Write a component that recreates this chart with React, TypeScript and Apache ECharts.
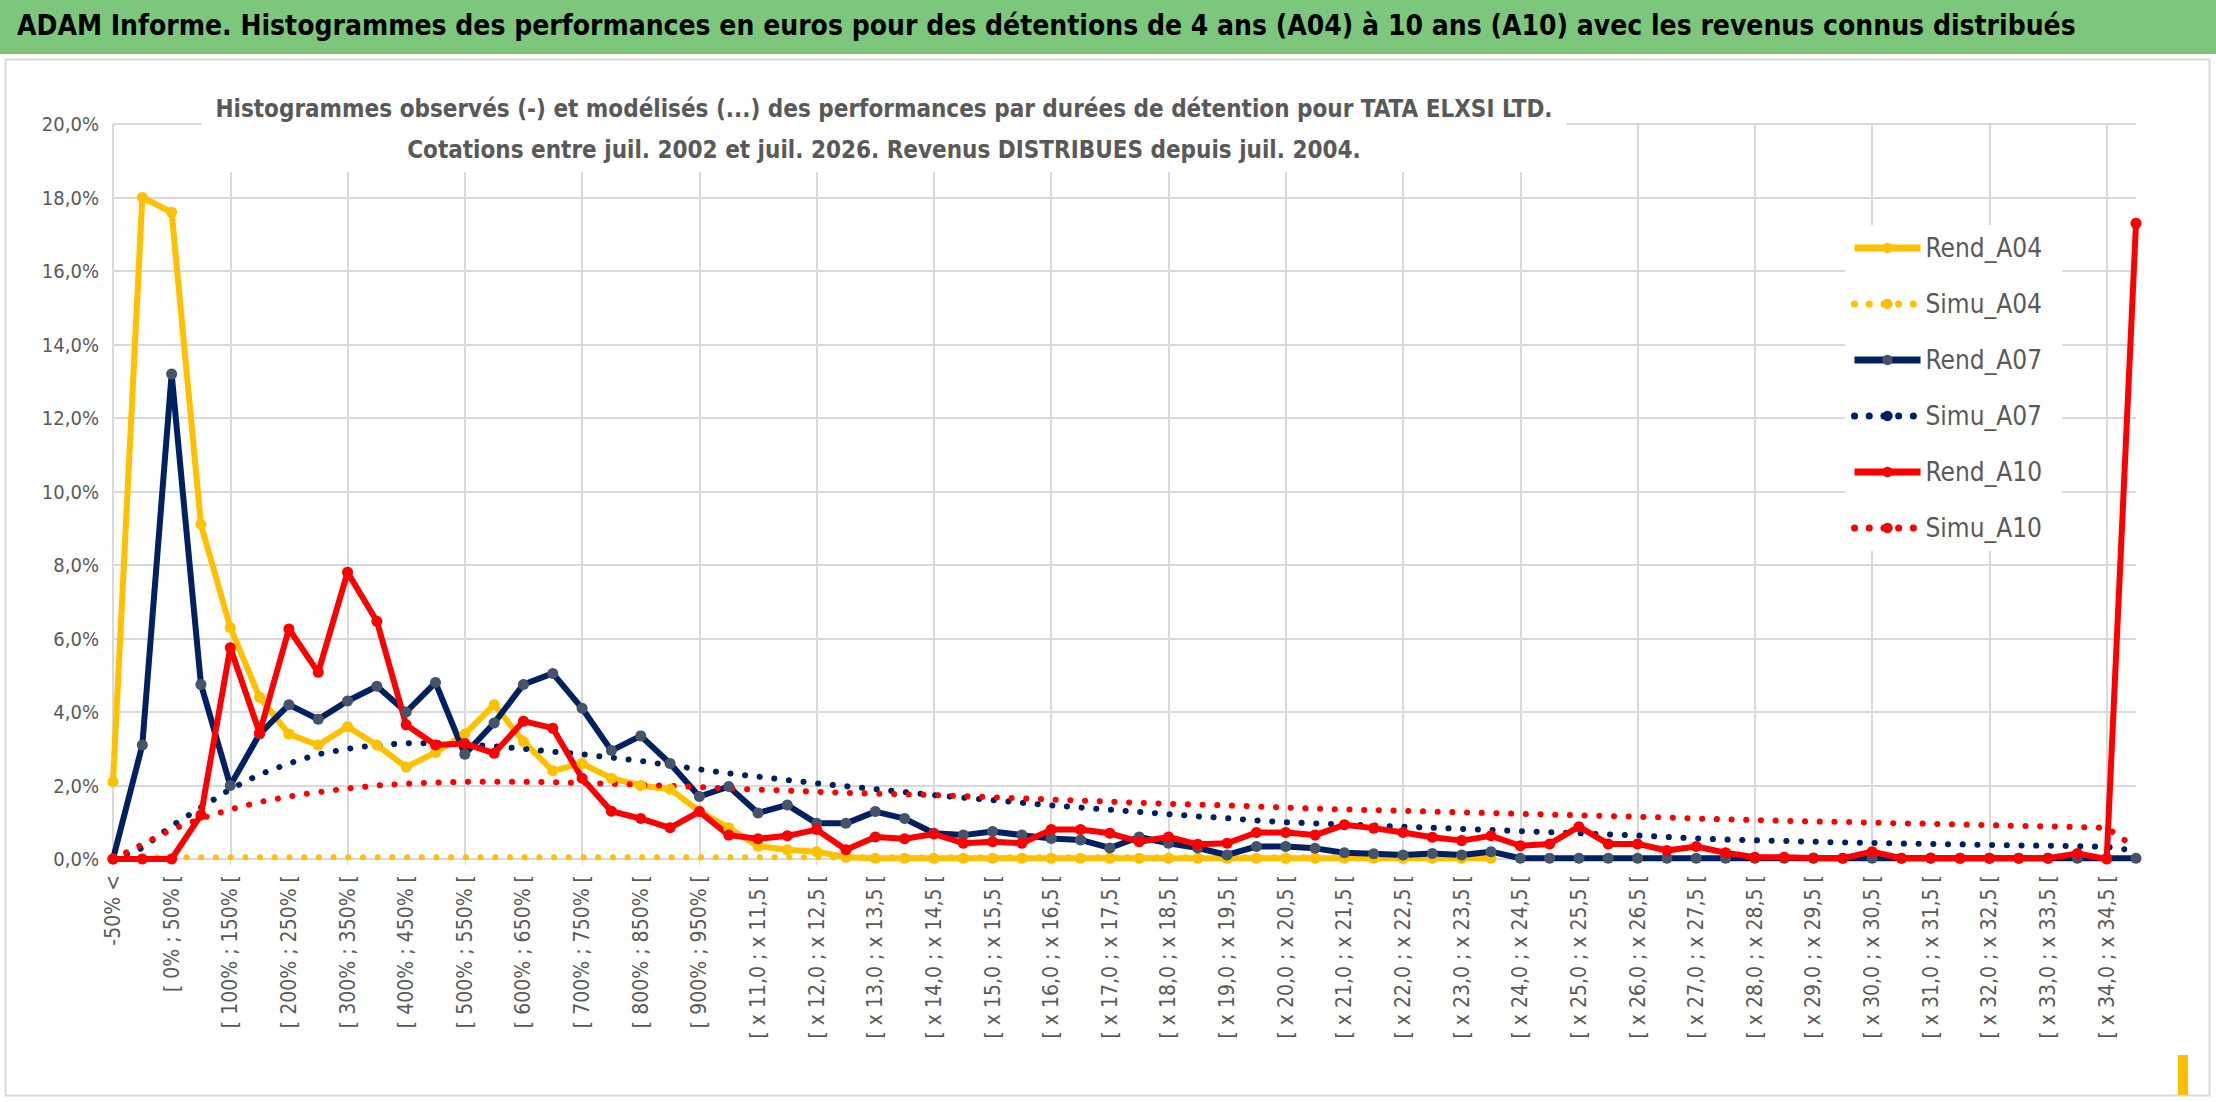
import { useEffect, useRef } from "react";
import * as echarts from "echarts";

const categories = [
  "-50% <", "[ -50% ; 0% [", "[ 0% ; 50% [", "[ 50% ; 100% [", "[ 100% ; 150% [", "[ 150% ; 200% [",
  "[ 200% ; 250% [", "[ 250% ; 300% [", "[ 300% ; 350% [", "[ 350% ; 400% [", "[ 400% ; 450% [",
  "[ 450% ; 500% [", "[ 500% ; 550% [", "[ 550% ; 600% [", "[ 600% ; 650% [", "[ 650% ; 700% [",
  "[ 700% ; 750% [", "[ 750% ; 800% [", "[ 800% ; 850% [", "[ 850% ; 900% [", "[ 900% ; 950% [",
  "[ 950% ; x 11,0 [", "[ x 11,0 ; x 11,5 [", "[ x 11,5 ; x 12,0 [", "[ x 12,0 ; x 12,5 [",
  "[ x 12,5 ; x 13,0 [", "[ x 13,0 ; x 13,5 [", "[ x 13,5 ; x 14,0 [", "[ x 14,0 ; x 14,5 [",
  "[ x 14,5 ; x 15,0 [", "[ x 15,0 ; x 15,5 [", "[ x 15,5 ; x 16,0 [", "[ x 16,0 ; x 16,5 [",
  "[ x 16,5 ; x 17,0 [", "[ x 17,0 ; x 17,5 [", "[ x 17,5 ; x 18,0 [", "[ x 18,0 ; x 18,5 [",
  "[ x 18,5 ; x 19,0 [", "[ x 19,0 ; x 19,5 [", "[ x 19,5 ; x 20,0 [", "[ x 20,0 ; x 20,5 [",
  "[ x 20,5 ; x 21,0 [", "[ x 21,0 ; x 21,5 [", "[ x 21,5 ; x 22,0 [", "[ x 22,0 ; x 22,5 [",
  "[ x 22,5 ; x 23,0 [", "[ x 23,0 ; x 23,5 [", "[ x 23,5 ; x 24,0 [", "[ x 24,0 ; x 24,5 [",
  "[ x 24,5 ; x 25,0 [", "[ x 25,0 ; x 25,5 [", "[ x 25,5 ; x 26,0 [", "[ x 26,0 ; x 26,5 [",
  "[ x 26,5 ; x 27,0 [", "[ x 27,0 ; x 27,5 [", "[ x 27,5 ; x 28,0 [", "[ x 28,0 ; x 28,5 [",
  "[ x 28,5 ; x 29,0 [", "[ x 29,0 ; x 29,5 [", "[ x 29,5 ; x 30,0 [", "[ x 30,0 ; x 30,5 [",
  "[ x 30,5 ; x 31,0 [", "[ x 31,0 ; x 31,5 [", "[ x 31,5 ; x 32,0 [", "[ x 32,0 ; x 32,5 [",
  "[ x 32,5 ; x 33,0 [", "[ x 33,0 ; x 33,5 [", "[ x 33,5 ; x 34,0 [", "[ x 34,0 ; x 34,5 [",
  "x 34,5 <",
];

const rendA04 = [
  2.1, 18.0, 17.6, 9.1, 6.3, 4.4, 3.4, 3.1, 3.6, 3.1,
  2.5, 2.9, 3.4, 4.2, 3.2, 2.4, 2.6, 2.2, 2.0, 1.9,
  1.3, 0.85, 0.35, 0.25, 0.2, 0.05, 0.02, 0.02, 0.02, 0.02,
  0.02, 0.02, 0.02, 0.02, 0.02, 0.02, 0.02, 0.02, 0.02, 0.02,
  0.02, 0.02, 0.02, 0.02, 0.02, 0.02, 0.02, 0.02,
  null, null, null, null, null, null, null, null, null, null, null,
  null, null, null, null, null, null, null, null, null, null, null,
];

const simuA04 = [
  0.05, 0.05, 0.05, 0.05, 0.05, 0.05, 0.05, 0.05, 0.05, 0.05,
  0.05, 0.05, 0.05, 0.05, 0.05, 0.05, 0.05, 0.05, 0.05, 0.05,
  0.05, 0.05, 0.05, 0.05, 0.05, 0.05, 0.05, 0.05, 0.05, 0.05,
  0.05, 0.05, 0.05, 0.05, 0.05, 0.05, 0.05, 0.05, 0.05, 0.05,
  0.05, 0.05, 0.05, 0.05, 0.05, 0.05, 0.05, 0.05,
  null, null, null, null, null, null, null, null, null, null, null,
  null, null, null, null, null, null, null, null, null, null, null,
];

const rendA07 = [
  0, 3.1, 13.2, 4.75, 2.0, 3.4, 4.2, 3.8, 4.3, 4.7,
  4.0, 4.8, 2.85, 3.7, 4.75, 5.05, 4.1, 2.95, 3.35, 2.6,
  1.7, 1.97, 1.25, 1.47, 0.97, 0.97, 1.29, 1.1, 0.7, 0.65,
  0.75, 0.65, 0.56, 0.52, 0.3, 0.6, 0.43, 0.3, 0.11, 0.34,
  0.34, 0.29, 0.17, 0.14, 0.11, 0.15, 0.11, 0.2, 0.02, 0.02,
  0.02, 0.02, 0.02, 0.02, 0.02, 0.02, 0.02, 0.02, 0.02, 0.02,
  0.02, 0.02, 0.02, 0.02, 0.02, 0.02, 0.02, 0.02, 0.02, 0.02,
];

const simuA07 = [
  0, 0.3, 0.9, 1.4, 1.9, 2.3, 2.6, 2.85, 3.0, 3.1,
  3.15, 3.15, 3.12, 3.07, 3.0, 2.92, 2.85, 2.76, 2.67, 2.55,
  2.44, 2.33, 2.24, 2.15, 2.06, 1.98, 1.9, 1.82, 1.74, 1.67,
  1.6, 1.53, 1.46, 1.4, 1.34, 1.28, 1.22, 1.16, 1.11, 1.05,
  1.0, 0.97, 0.94, 0.91, 0.88, 0.85, 0.82, 0.79, 0.76, 0.73,
  0.7, 0.67, 0.64, 0.6, 0.56, 0.53, 0.51, 0.49, 0.47, 0.45,
  0.44, 0.42, 0.41, 0.4, 0.38, 0.37, 0.36, 0.35, 0.33, 0.22,
];

const rendA10 = [
  0, 0, 0, 1.2, 5.75, 3.43, 6.26, 5.08, 7.8, 6.47,
  3.65, 3.1, 3.14, 2.88, 3.75, 3.56, 2.2, 1.3, 1.1, 0.85,
  1.29, 0.65, 0.55, 0.63, 0.8, 0.25, 0.6, 0.55, 0.68, 0.43,
  0.47, 0.43, 0.8, 0.8, 0.7, 0.47, 0.6, 0.4, 0.43, 0.72,
  0.72, 0.65, 0.93, 0.84, 0.72, 0.59, 0.5, 0.63, 0.36, 0.41,
  0.88, 0.41, 0.41, 0.23, 0.34, 0.17, 0.05, 0.05, 0.03, 0.02,
  0.2, 0.02, 0.03, 0.02, 0.02, 0.02, 0.02, 0.15, 0.0, 17.3,
];

const simuA10 = [
  0, 0.4, 0.8, 1.1, 1.35, 1.55, 1.7, 1.82, 1.92, 2.0,
  2.05, 2.08, 2.1, 2.1, 2.1, 2.09, 2.07, 2.05, 2.02, 1.99,
  1.96, 1.92, 1.89, 1.86, 1.83, 1.8, 1.78, 1.76, 1.74, 1.71,
  1.68, 1.65, 1.62, 1.59, 1.56, 1.53, 1.5, 1.48, 1.46, 1.43,
  1.4, 1.37, 1.35, 1.33, 1.31, 1.29, 1.27, 1.25, 1.23, 1.21,
  1.19, 1.17, 1.15, 1.13, 1.1, 1.08, 1.06, 1.04, 1.02, 1.01,
  0.99, 0.97, 0.96, 0.94, 0.92, 0.9, 0.89, 0.87, 0.85, 0.3,
];

const FONT = "'DejaVu Sans Condensed', 'Liberation Sans Narrow', 'Open Sans', sans-serif";
const GREY = "#595959";
const YELLOW = "#ffc000";
const NAVY = "#002060";
const RED = "#ff0000";

const rend = (name: string, data: (number | null)[], color: string, marker: string) => ({
  name,
  type: "line",
  data,
  symbol: "circle",
  symbolSize: 11,
  lineStyle: { color, width: 6 },
  itemStyle: { color: marker },
  color,
});

const simu = (name: string, data: (number | null)[], color: string) => ({
  name,
  type: "line",
  data,
  symbol: "none",
  lineStyle: { color, width: 6, type: [0.1, 14.6], cap: "round" },
  itemStyle: { color },
  color,
});

export default function App() {
  const ref = useRef<HTMLDivElement>(null);

  useEffect(() => {
    document.body.style.margin = "0";
    if (!ref.current) return;
    const chart = echarts.init(ref.current, null, { renderer: "svg" });
    chart.setOption({
      animation: false,
      backgroundColor: "#fff",
      textStyle: { fontFamily: FONT },
      title: {
        text: "Histogrammes observés (-) et modélisés (...) des performances par durées de détention pour TATA ELXSI LTD.\nCotations entre juil. 2002 et juil. 2026. Revenus DISTRIBUES depuis juil. 2004.",
        left: 870,
        top: 86,
        textAlign: "center",
        backgroundColor: "#fff",
        padding: [2, 14],
        textStyle: { fontFamily: FONT, fontSize: 24, fontWeight: "bold", color: GREY, lineHeight: 41 },
      },
      graphic: [
        { type: "rect", left: 0, top: 0, shape: { width: 2216, height: 54 }, style: { fill: "#7cc77c" } },
        { type: "rect", left: 3, top: 57, shape: { width: 2204, height: 1036 }, style: { fill: "none", stroke: "#d9d9d9", lineWidth: 2 } },
        { type: "rect", left: 2178, top: 1055, shape: { width: 10, height: 40 }, style: { fill: YELLOW } },
        {
          type: "text", left: 17, top: 11,
          style: {
            text: "ADAM Informe. Histogrammes des performances en euros pour des détentions de 4 ans (A04) à 10 ans (A10) avec les revenus connus distribués",
            font: `bold 28px ${FONT}`, fill: "#000",
          },
        },
      ],
      legend: {
        orient: "vertical",
        left: 1845,
        top: 225,
        itemGap: 30,
        itemWidth: 66,
        itemHeight: 13,
        backgroundColor: "#fff",
        padding: [10, 20, 10, 6],
        lineStyle: { width: 7 },
        textStyle: { fontSize: 26, color: GREY, fontFamily: FONT },
        data: ["Rend_A04", "Simu_A04", "Rend_A07", "Simu_A07", "Rend_A10", "Simu_A10"],
      },
      grid: { left: 113, right: 80, top: 124, bottom: 243 },
      xAxis: {
        type: "category",
        data: categories,
        boundaryGap: false,
        axisLine: { lineStyle: { color: "#d9d9d9", width: 2 } },
        axisTick: { show: true, interval: (i: number) => i % 4 === 0, length: 6, lineStyle: { color: "#d9d9d9" } },
        splitLine: { show: true, interval: (i: number) => i % 4 === 0, lineStyle: { color: "#d9d9d9", width: 2 } },
        axisLabel: { interval: 1, rotate: 90, fontSize: 21, color: GREY, fontFamily: FONT, margin: 16 },
      },
      yAxis: {
        type: "value",
        min: 0,
        max: 20,
        interval: 2,
        axisLine: { show: false },
        axisLabel: {
          fontSize: 20, color: GREY, fontFamily: FONT, margin: 14,
          formatter: (v: number) => v.toFixed(1).replace(".", ",") + "%",
        },
        splitLine: { lineStyle: { color: "#d9d9d9", width: 2 } },
      },
      series: [
        rend("Rend_A04", rendA04, YELLOW, YELLOW),
        simu("Simu_A04", simuA04, YELLOW),
        rend("Rend_A07", rendA07, NAVY, "#44546a"),
        simu("Simu_A07", simuA07, NAVY),
        rend("Rend_A10", rendA10, RED, RED),
        simu("Simu_A10", simuA10, RED),
      ],
    });
    return () => chart.dispose();
  }, []);

  return <div ref={ref} style={{ width: 2216, height: 1102 }} />;
}
